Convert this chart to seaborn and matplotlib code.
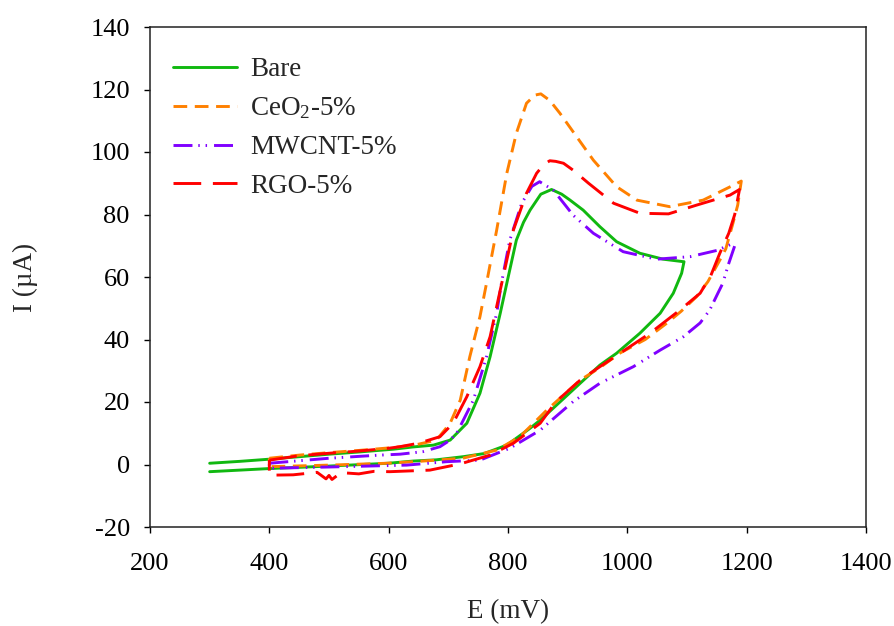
import numpy as np
import pandas as pd
import matplotlib
matplotlib.use("Agg")
import matplotlib.pyplot as plt
import seaborn as sns

# ---- data ----
bare_E = [300, 350, 400, 450, 500, 550, 608, 640, 675, 703, 731, 753, 770, 787, 798, 814, 826, 837, 855, 873, 890,
          904, 926, 954, 982, 1021, 1060, 1094, 1095,
          1091, 1077, 1055, 1021, 982, 954, 921, 870, 854, 837, 798, 760, 725, 680, 641, 600, 500, 400, 300]
bare_I = [0.4, 1.0, 1.7, 2.5, 3.3, 4.0, 4.9, 5.6, 6.2, 7.8, 13.2, 22.8, 34.5, 48.4, 58.0, 71.8, 77.5, 81.4, 86.5, 88.0, 86.5,
          84.6, 81.4, 76.1, 71.3, 67.6, 65.7, 64.9, 64.9,
          61.2, 54.8, 48.4, 42.0, 35.6, 31.8, 26.0, 17.0, 14.2, 11.6, 6.2, 3.5, 2.5, 1.5, 1.1, 0.4, -0.5, -1.3, -2.3]

ceo2_E = [400, 450, 500, 550, 600, 620, 650, 680, 703, 720, 736, 753, 764, 781, 798, 814, 831, 845, 855, 870,
          887, 915, 943, 982, 1016, 1071, 1127, 1178, 1191,
          1185, 1177, 1165, 1155, 1135, 1116, 1090, 1066, 1030, 988, 954, 921, 865, 820, 781, 724, 650, 597, 500, 400, 400]
ceo2_I = [2.0, 3.0, 3.8, 4.5, 5.3, 5.7, 6.5, 7.8, 13.2, 20.6, 34.5, 47.3, 58.0, 75.0, 93.2, 106.0, 115.6, 118.2, 118.6, 116.5,
          112.4, 104.9, 97.4, 88.9, 84.6, 82.5, 84.6, 89.4, 90.7,
          83.0, 77.2, 69.0, 65.4, 58.5, 53.7, 49.0, 45.2, 40.0, 35.7, 31.0, 27.0, 17.4, 8.9, 4.6, 2.0, 1.0, 0.4, -0.2, -0.7, 2.0]

mwcnt_E = [400, 450, 500, 550, 585, 619, 657, 686, 703, 714, 742, 764, 781, 789, 803, 823, 840, 853, 876,
           898, 909, 943, 993, 1049, 1105, 1150, 1178,
           1180, 1169, 1160, 1152, 1138, 1122, 1094, 1055, 1010, 954, 909, 854, 803, 753, 697, 630, 500, 400, 400]
mwcnt_I = [0.4, 1.2, 2.0, 2.6, 3.0, 3.3, 4.1, 5.7, 7.8, 10.0, 20.6, 34.5, 48.4, 58.0, 71.8, 83.6, 89.0, 90.5, 87.8,
           82.5, 79.8, 74.0, 68.1, 65.7, 66.5, 68.5, 70.8,
           70.0, 63.8, 58.0, 54.9, 49.4, 45.3, 40.9, 36.6, 31.3, 26.0, 20.1, 11.0, 5.2, 1.4, 0.9, -0.2, -0.8, -1.2, 0.4]

rgo_E = [400, 450, 500, 550, 600, 619, 650, 686, 708, 731, 753, 770, 787, 809, 831, 848, 860, 870, 880, 893,
         909, 935, 977, 1021, 1069, 1116, 1172, 1188,
         1180, 1170, 1155, 1140, 1122, 1088, 1038, 954, 921, 880, 854, 809, 770, 720, 669, 602, 575, 550, 520,
         505, 500, 495, 480, 460, 440, 406, 400, 400]
rgo_I = [1.4, 2.8, 3.6, 4.3, 5.2, 5.7, 6.8, 8.9, 13.2, 21.7, 31.3, 40.9, 55.8, 75.0, 86.8, 93.2, 96.0, 97.2, 97.0, 96.4,
         94.2, 90.0, 83.6, 80.4, 80.2, 83.0, 86.2, 88.0,
         80.0, 74.0, 67.6, 60.5, 54.8, 49.4, 42.0, 31.3, 27.0, 20.0, 13.2, 6.8, 3.0, 0.2, -1.8, -2.3, -2.2, -3.0, -2.6,
         -4.8, -3.5, -4.6, -2.5, -2.9, -3.3, -3.4, -3.4, 1.4]

labels = ["Bare", "CeO$_2$-5%", "MWCNT-5%", "RGO-5%"]
x_ticks = [200, 400, 600, 800, 1000, 1200, 1400]
y_ticks = [-20, 0, 20, 40, 60, 80, 100, 120, 140]

# ---- style ----
sns.set_style("ticks")
plt.rcParams["font.family"] = ["Liberation Serif", "DejaVu Serif"]
plt.rcParams["mathtext.fontset"] = "custom"
plt.rcParams["mathtext.rm"] = "Liberation Serif"
plt.rcParams["mathtext.it"] = "Liberation Serif:italic"
plt.rcParams["axes.unicode_minus"] = False

fig = plt.figure(figsize=(8.95, 6.26), dpi=100)
ax = fig.add_axes([150 / 895, 1 - 527 / 626, 716 / 895, 500 / 626])

series = [
    (bare_E, bare_I, "#10B810", None),
    (ceo2_E, ceo2_I, "#FF8000", (4.7, 2.6)),
    (mwcnt_E, mwcnt_I, "#8000FF", (6.5, 2.0, 0.5, 2.0, 0.5, 2.4)),
    (rgo_E, rgo_I, "#FF0000", (9.5, 4.0)),
]

for (E, I, col, dash), lab in zip(series, labels):
    df = pd.DataFrame({"E": E, "I": I})
    sns.lineplot(data=df, x="E", y="I", sort=False, estimator=None, color=col,
                 lw=2.1, ax=ax, label=lab)
    line = ax.lines[-1]
    if dash is not None:
        line.set_dashes(dash)
    line.set_solid_joinstyle("round")

ax.set_xlim(200, 1400)
ax.set_ylim(-20, 140)
ax.set_xticks(x_ticks)
ax.set_yticks(y_ticks)
ax.tick_params(axis="both", which="major", direction="out", length=4.5, width=1.0,
               labelsize=19, colors="black")
ax.tick_params(axis="x", pad=14)
ax.tick_params(axis="y", pad=10)
for s in ax.spines.values():
    s.set_visible(True)
    s.set_linewidth(1.1)
    s.set_color("#222222")

ax.set_xlabel("E (mV)", fontsize=19.5)
ax.set_ylabel("I (\u00b5A)", fontsize=19.5)
ax.xaxis.set_label_coords(0.5, -0.145)
ax.yaxis.set_label_coords(-0.156, 0.5)

leg = ax.legend(loc="upper left", bbox_to_anchor=(0.032, 0.94), frameon=False,
                fontsize=19.5, handlelength=2.35, handletextpad=0.5, labelspacing=0.5,
                borderpad=0, borderaxespad=0)

fig.savefig("out.png", dpi=100)
